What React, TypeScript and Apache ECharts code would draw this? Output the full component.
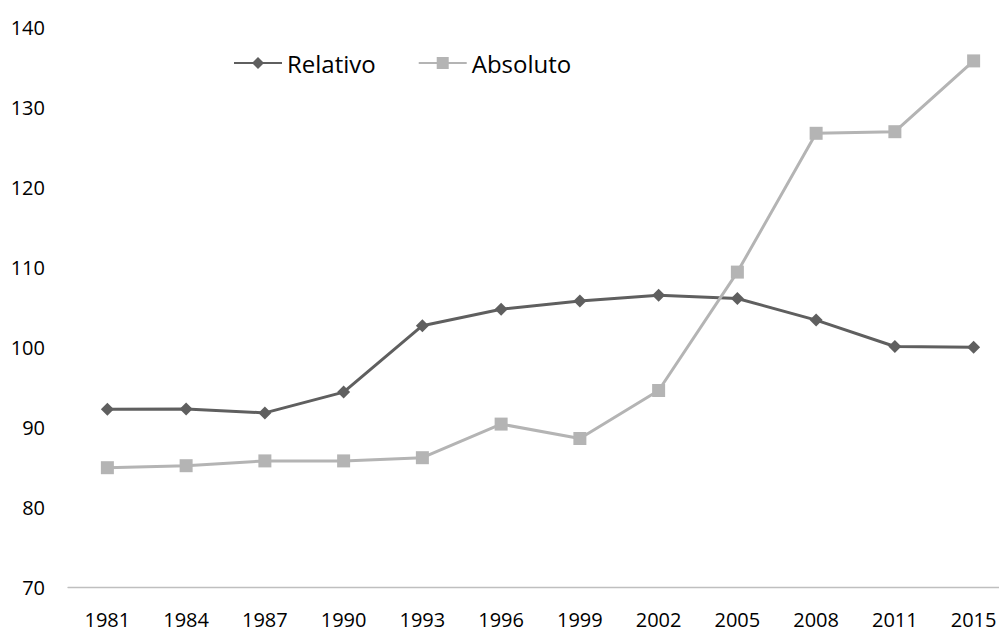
import React, { useEffect, useRef } from "react";
import * as echarts from "echarts";

const years = ["1981", "1984", "1987", "1990", "1993", "1996", "1999", "2002", "2005", "2008", "2011", "2015"];
const relativo = [92.25, 92.3, 91.8, 94.4, 102.7, 104.75, 105.8, 106.5, 106.1, 103.4, 100.1, 100.0];
const absoluto = [84.95, 85.2, 85.8, 85.8, 86.2, 90.4, 88.6, 94.6, 109.4, 126.75, 126.95, 135.8];
const FONT = "'Open Sans', 'Noto Sans', sans-serif";

export default function App() {
  const ref = useRef<HTMLDivElement>(null);
  useEffect(() => {
    if (!ref.current) return;
    const chart = echarts.init(ref.current, undefined, { renderer: "svg" });
    chart.setOption({
      animation: false,
      backgroundColor: "#ffffff",
      legend: {
        left: 228,
        top: 42,
        itemWidth: 48,
        itemHeight: 15,
        itemGap: 42,
        textStyle: { fontFamily: FONT, fontSize: 24, lineHeight: 32, color: "#000000" },
        data: ["Relativo", "Absoluto"],
      },
      grid: {
        left: 68,
        right: -14,
        top: 27.3,
        bottom: 43.7,
        containLabel: false,
        outerBoundsMode: "none",
      },
      xAxis: {
        type: "category",
        data: years,
        boundaryGap: true,
        axisLine: { show: true, lineStyle: { color: "#bfbfbf", width: 1.3 } },
        axisTick: { show: false },
        axisLabel: { interval: 0, margin: 24, fontFamily: FONT, fontSize: 20, lineHeight: 16, verticalAlign: "top", color: "#000000" },
        splitLine: { show: false },
      },
      yAxis: {
        type: "value",
        min: 70,
        max: 140,
        interval: 10,
        axisLine: { show: false },
        axisTick: { show: false },
        axisLabel: { margin: 23, fontFamily: FONT, fontSize: 20, color: "#000000" },
        splitLine: { show: false },
      },
      series: [
        {
          name: "Relativo",
          type: "line",
          data: relativo,
          symbol: "diamond",
          symbolSize: 13,
          color: "#5f5f5f",
          lineStyle: { color: "#5f5f5f", width: 3 },
          itemStyle: { color: "#5f5f5f" },
        },
        {
          name: "Absoluto",
          type: "line",
          data: absoluto,
          symbol: "rect",
          symbolSize: 13,
          color: "#b4b4b4",
          lineStyle: { color: "#b4b4b4", width: 3 },
          itemStyle: { color: "#b4b4b4" },
        },
      ],
    });
    return () => chart.dispose();
  }, []);
  return (
    <div
      ref={ref}
      style={{ position: "absolute", left: 0, top: 0, width: 999, height: 631, overflow: "hidden" }}
    />
  );
}
